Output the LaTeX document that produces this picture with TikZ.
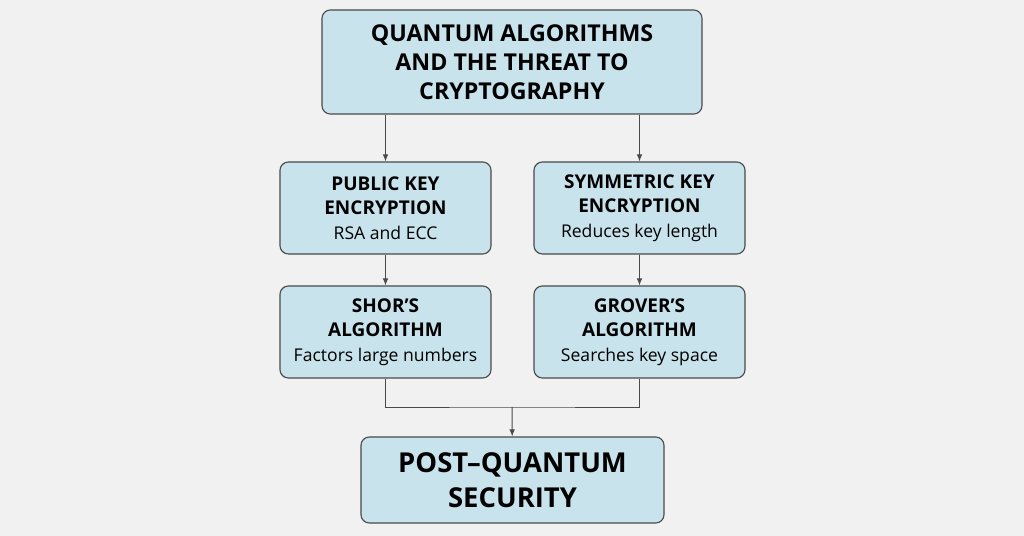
\documentclass[tikz,border=0pt]{standalone}
\usepackage{fontspec}
\setmainfont{Open Sans}
\definecolor{boxblue}{HTML}{C8E3EC}
\definecolor{boxline}{HTML}{4A4A4A}
\definecolor{bggray}{HTML}{F1F1F1}
\newcommand{\subline}{\mdseries\fontsize{12.5}{16}\selectfont}
\tikzset{
  box/.style={draw=boxline,line width=0.8pt,fill=boxblue,rounded corners=6pt,align=center,inner sep=0pt},
  midbox/.style={box,minimum width=5.275cm,minimum height=2.3cm,font=\fontsize{13.5}{17.5}\selectfont\bfseries},
  link/.style={draw=boxline,line width=0.7pt},
  arr/.style={link,-{Latex[length=5pt,width=4pt]}}
}
\usetikzlibrary{arrows.meta}
\begin{document}
\begin{tikzpicture}[x=0.025cm,y=-0.025cm]
  \fill[bggray] (0,0) rectangle (1024,536);%

  \node[box,minimum width=9.5cm,minimum height=2.6cm,font=\fontsize{16.5}{20.5}\selectfont\bfseries] (top) at (512,62) {QUANTUM ALGORITHMS\\AND THE THREAT TO\\CRYPTOGRAPHY};%

  \node[midbox] (pub) at (385.5,208) {PUBLIC KEY\\ENCRYPTION\\\subline RSA and ECC};%
  \node[midbox] (sym) at (639.5,208) {SYMMETRIC KEY\\ENCRYPTION\\\subline Reduces key length};%

  \node[midbox] (shor) at (385.5,332) {SHOR’S\\ALGORITHM\\\subline Factors large numbers};%
  \node[midbox] (grov) at (639.5,332) {GROVER’S\\ALGORITHM\\\subline Searches key space};%

  \node[box,minimum width=7.575cm,minimum height=2.15cm,font=\fontsize{19.5}{25}\selectfont\bfseries] (post) at (512.5,480) {POST–QUANTUM\\SECURITY};%

  \coordinate (j) at (512,407);%

  \draw[arr] (top.south -| pub) -- (pub);%
  \draw[arr] (top.south -| sym) -- (sym);%
  \draw[arr] (pub) -- (shor);%
  \draw[arr] (sym) -- (grov);%
  \draw[link] (shor.south) |- (j) -| (grov.south);%
  \draw[arr] (j) -- (post);%
\end{tikzpicture}
\end{document}
